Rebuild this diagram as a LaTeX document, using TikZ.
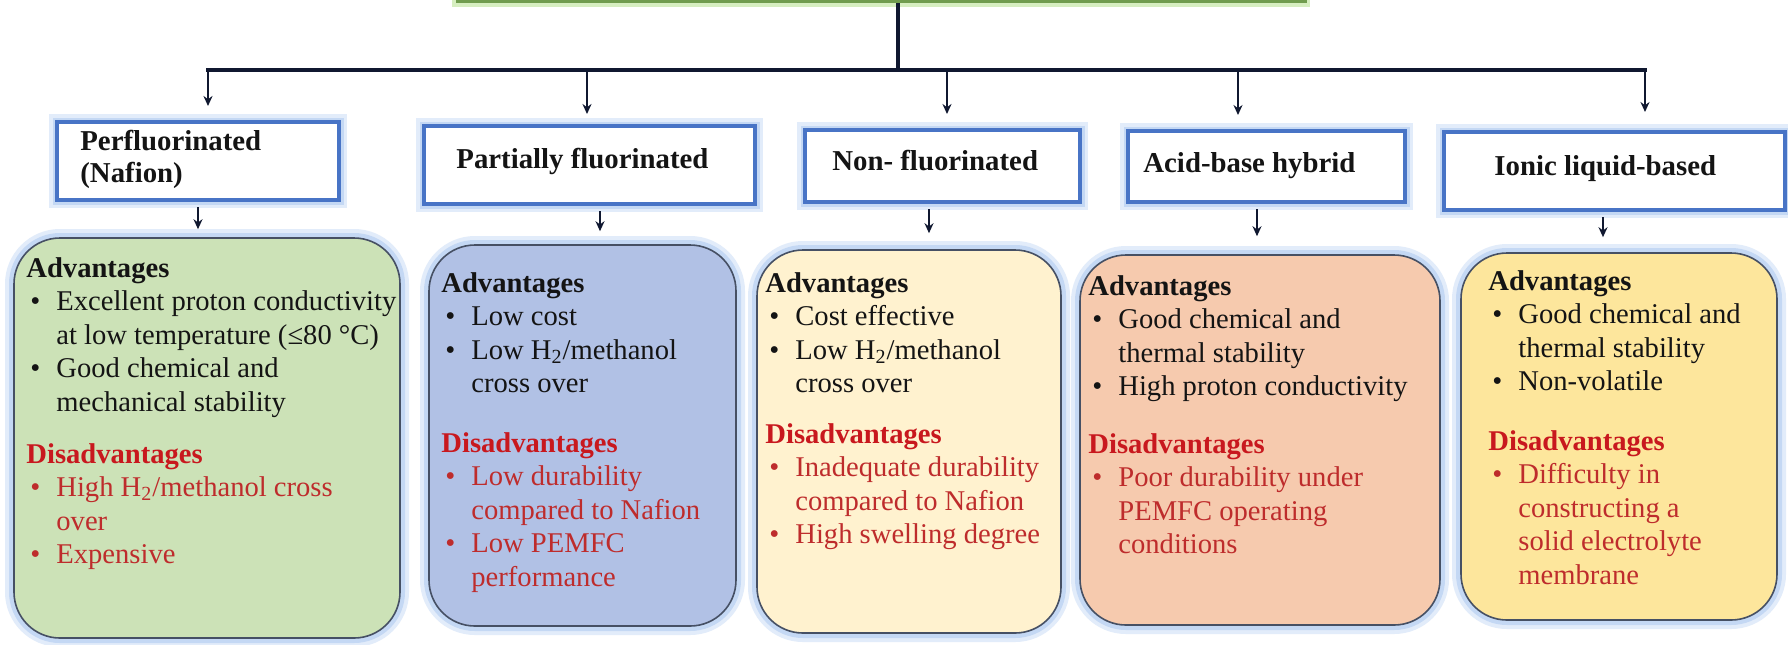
\documentclass[tikz,border=0pt]{standalone}
\usepackage{fontspec}
\setmainfont{Liberation Serif}
\usetikzlibrary{arrows.meta}
\definecolor{fillA}{RGB}{204,226,183}
\definecolor{fillB}{RGB}{177,193,229}
\definecolor{fillC}{RGB}{255,242,207}
\definecolor{fillD}{RGB}{246,202,174}
\definecolor{fillE}{RGB}{253,230,156}
\definecolor{hblue}{RGB}{72,116,198}
\definecolor{glowblue}{RGB}{196,216,244}
\definecolor{glowpale}{RGB}{226,236,250}
\definecolor{bordgray}{RGB}{70,80,100}
\definecolor{navy}{RGB}{16,24,48}
\definecolor{topgreen}{RGB}{112,156,78}
\definecolor{topglow}{RGB}{214,238,192}
\definecolor{topfill}{RGB}{236,246,226}
\definecolor{dred}{RGB}{200,24,30}
\definecolor{ired}{RGB}{190,44,44}
\definecolor{txt}{RGB}{20,20,20}
\newcommand\bitem[1]{\par\noindent\hangindent=15pt\hangafter=1\makebox[15pt][l]{\hspace{2pt}\textbullet}#1}
\newcommand\blk[1]{\vtop{\hsize=260pt\parindent=0pt\parskip=0pt\fontsize{14.3pt}{16.8pt}\selectfont #1\par}}
\newcommand\hblk[1]{\vtop{\hsize=260pt\parindent=0pt\parskip=0pt\fontsize{14.4pt}{16pt}\selectfont\bfseries #1\par}}
\tikzset{
  ln/.style={draw=navy, line width=1.8pt},
  arr/.style={draw=navy, line width=1.4pt, -{Stealth[length=5pt,width=4.5pt]}},
  hbox/.style={rectangle, draw=hblue, line width=2pt, fill=white, inner sep=0,
    preaction={draw=glowpale, line width=8pt},
    preaction={draw=glowblue, line width=4.5pt}},
  bbox/.style={rectangle, rounded corners=23pt, draw=bordgray, line width=0.8pt, inner sep=0,
    preaction={draw=glowpale, line width=9pt},
    preaction={draw=glowblue, line width=5pt}},
  tbox/.style={rectangle, draw=topgreen, line width=1.5pt, fill=topfill, inner sep=0,
    preaction={draw=topglow, line width=5pt}},
  tx/.style={anchor=base west, inner sep=0, text=txt},
}
\begin{document}
\begin{tikzpicture}[x=0.5pt,y=-0.5pt]
\useasboundingbox (0,0) rectangle (1788,644);
\clip (0,0) rectangle (1788,644);
\fill[white] (0,0) rectangle (1788,644);

% top box (only its bottom edge is visible)
\node[tbox, minimum width=424pt, minimum height=60pt, anchor=south] (top) at (881,3) {};

% header boxes
\node[hbox, minimum width=141pt, minimum height=39pt] (h1) at (198,161) {};
\node[hbox, minimum width=165.5pt, minimum height=39pt] (h2) at (589.5,165) {};
\node[hbox, minimum width=137.5pt, minimum height=36pt] (h3) at (942.5,166) {};
\node[hbox, minimum width=138.5pt, minimum height=35.5pt] (h4) at (1266.5,166.5) {};
\node[hbox, minimum width=170.5pt, minimum height=39pt] (h5) at (1614.5,171) {};

\node[tx] (t1) at (80,150) {\hblk{Perfluorinated\newline (Nafion)}};
\node[tx] (t2) at (456,168) {\hblk{Partially fluorinated}};
\node[tx] (t3) at (832,170) {\hblk{Non- fluorinated}};
\node[tx] (t4) at (1143,172) {\hblk{Acid-base hybrid}};
\node[tx] (t5) at (1494,175) {\hblk{Ionic liquid-based}};

% bottom boxes
\node[bbox, fill=fillA, minimum width=193pt, minimum height=200pt] (b1) at (207,438) {};
\node[bbox, fill=fillB, minimum width=153.5pt, minimum height=190.5pt] (b2) at (582.5,435.5) {};
\node[bbox, fill=fillC, minimum width=152pt, minimum height=191.5pt] (b3) at (909,441.5) {};
\node[bbox, fill=fillD, minimum width=180pt, minimum height=185pt] (b4) at (1260,440) {};
\node[bbox, fill=fillE, minimum width=158pt, minimum height=183.5pt] (b5) at (1619,436.5) {};

% connectors
\coordinate (tj) at (898,70);
\coordinate (d1) at (208,70);
\coordinate (d2) at (587,70);
\coordinate (d3) at (947,70);
\coordinate (d4) at (1238,70);
\coordinate (d5) at (1645,70);
\draw[ln] (tj |- top.south) -- (tj);
\draw[ln, line cap=rect] (d1) -- (d5);
\draw[arr, shorten >=7pt] (d1) -- (d1 |- h1.north);
\draw[arr, shorten >=5pt] (d2) -- (d2 |- h2.north);
\draw[arr, shorten >=7pt] (d3) -- (d3 |- h3.north);
\draw[arr, shorten >=7pt] (d4) -- (d4 |- h4.north);
\draw[arr, shorten >=9pt] (d5) -- (d5 |- h5.north);

\coordinate (x1) at (198,0);
\coordinate (x2) at (600,0);
\coordinate (x3) at (929,0);
\coordinate (x4) at (1257,0);
\coordinate (x5) at (1603,0);
\draw[arr, shorten <=2.5pt, shorten >=4pt] (h1.south -| x1) -- (x1 |- b1.north);
\draw[arr, shorten <=2.5pt, shorten >=6.5pt] (h2.south -| x2) -- (x2 |- b2.north);
\draw[arr, shorten <=2.5pt, shorten >=8pt] (h3.south -| x3) -- (x3 |- b3.north);
\draw[arr, shorten <=2.5pt, shorten >=9pt] (h4.south -| x4) -- (x4 |- b4.north);
\draw[arr, shorten <=2.5pt, shorten >=7.5pt] (h5.south -| x5) -- (x5 |- b5.north);

% box texts
\node[tx] (a1) at (26,277) {\blk{\textbf{Advantages}\bitem{Excellent proton conductivity\newline at low temperature (≤80 °C)}\bitem{Good chemical and\newline mechanical stability}}};
\node[tx, text=ired] (r1) at (26,463) {\blk{\textcolor{dred}{\textbf{Disadvantages}}\bitem{High H\textsubscript{2}/methanol cross\newline over}\bitem{Expensive}}};

\node[tx] (a2) at (441,292) {\blk{\textbf{Advantages}\bitem{Low cost}\bitem{Low H\textsubscript{2}/methanol\newline cross over}}};
\node[tx, text=ired] (r2) at (441,452) {\blk{\textcolor{dred}{\textbf{Disadvantages}}\bitem{Low durability\newline compared to Nafion}\bitem{Low PEMFC\newline performance}}};

\node[tx] (a3) at (765,292) {\blk{\textbf{Advantages}\bitem{Cost effective}\bitem{Low H\textsubscript{2}/methanol\newline cross over}}};
\node[tx, text=ired] (r3) at (765,443) {\blk{\textcolor{dred}{\textbf{Disadvantages}}\bitem{Inadequate durability\newline compared to Nafion}\bitem{High swelling degree}}};

\node[tx] (a4) at (1088,295) {\blk{\textbf{Advantages}\bitem{Good chemical and\newline thermal stability}\bitem{High proton conductivity}}};
\node[tx, text=ired] (r4) at (1088,453) {\blk{\textcolor{dred}{\textbf{Disadvantages}}\bitem{Poor durability under\newline PEMFC operating\newline conditions}}};

\node[tx] (a5) at (1488,290) {\blk{\textbf{Advantages}\bitem{Good chemical and\newline thermal stability}\bitem{Non-volatile}}};
\node[tx, text=ired] (r5) at (1488,450) {\blk{\textcolor{dred}{\textbf{Disadvantages}}\bitem{Difficulty in\newline constructing a\newline solid electrolyte\newline membrane}}};
\end{tikzpicture}
\end{document}
